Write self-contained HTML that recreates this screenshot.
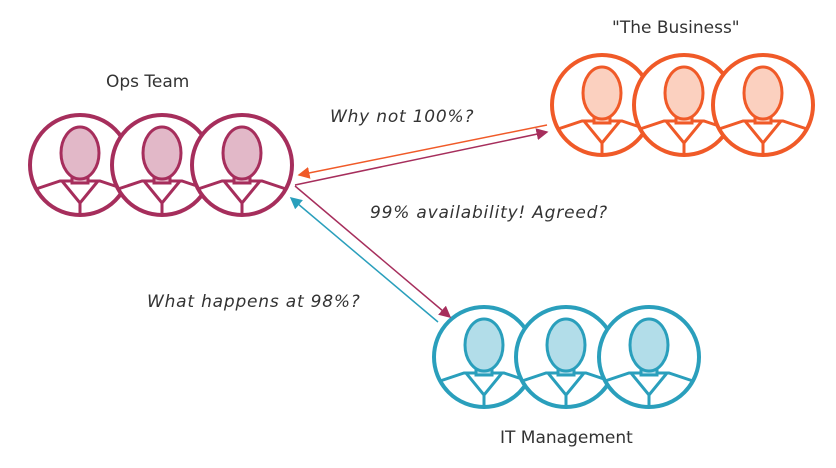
<!DOCTYPE html>
<html><head><style>
body{margin:0;width:836px;height:468px;background:#fff;overflow:hidden}
svg{display:block}
text{font-family:"DejaVu Sans","Liberation Sans",sans-serif;font-size:17px;fill:#333}
.i{font-style:italic;letter-spacing:0.8px}
</style></head><body>
<svg width="836" height="468" viewBox="0 0 836 468">
<defs>
<marker id="mo" markerWidth="8" markerHeight="8" refX="7" refY="4" orient="auto"><path d="M0,0 L8,4 L0,8 Z" fill="#f05a28"/></marker>
<marker id="mp" markerWidth="8" markerHeight="8" refX="7" refY="4" orient="auto"><path d="M0,0 L8,4 L0,8 Z" fill="#a62e5c"/></marker>
<marker id="mt" markerWidth="8" markerHeight="8" refX="7" refY="4" orient="auto"><path d="M0,0 L8,4 L0,8 Z" fill="#2a9fbc"/></marker>
<g id="person">
<circle cx="0" cy="0" r="50" fill="#fff" stroke-width="4"/>
<path d="M-44,24 L-20,16 L20,16 L44,24" fill="none" stroke-width="3"/>
<path d="M-18,16 L0,38 L18,16" fill="none" stroke-width="3"/>
<line x1="0" y1="38" x2="0" y2="48" stroke-width="3"/>
<rect x="-8" y="4" width="16" height="14" stroke-width="3"/>
<ellipse cx="0" cy="-12" rx="19" ry="26" stroke-width="3"/>
</g>
</defs>
<text x="106" y="87">Ops Team</text>
<text x="612" y="33">"The Business"</text>
<text x="500" y="443">IT Management</text>
<text class="i" x="330" y="122">Why not 100%?</text>
<text class="i" x="370" y="218">99% availability! Agreed?</text>
<text class="i" x="147" y="307">What happens at 98%?</text>

<g stroke="#a62e5c" fill="#e2b8c8">
<use href="#person" x="80" y="165"/><use href="#person" x="162" y="165"/><use href="#person" x="242" y="165"/>
</g>
<g stroke="#f05a28" fill="#fbd0bf">
<use href="#person" x="602" y="105"/><use href="#person" x="684" y="105"/><use href="#person" x="763" y="105"/>
</g>
<g stroke="#2a9fbc" fill="#b2dde9">
<use href="#person" x="484" y="357"/><use href="#person" x="566" y="357"/><use href="#person" x="649" y="357"/>
</g>

<line x1="547" y1="125" x2="299" y2="175" stroke="#f05a28" stroke-width="1.5" marker-end="url(#mo)"/>
<line x1="295" y1="185" x2="547" y2="132" stroke="#a62e5c" stroke-width="1.5" marker-end="url(#mp)"/>
<line x1="295" y1="186" x2="450" y2="317" stroke="#a62e5c" stroke-width="1.5" marker-end="url(#mp)"/>
<line x1="438" y1="322" x2="291" y2="198" stroke="#2a9fbc" stroke-width="1.5" marker-end="url(#mt)"/>
</svg>
</body></html>
